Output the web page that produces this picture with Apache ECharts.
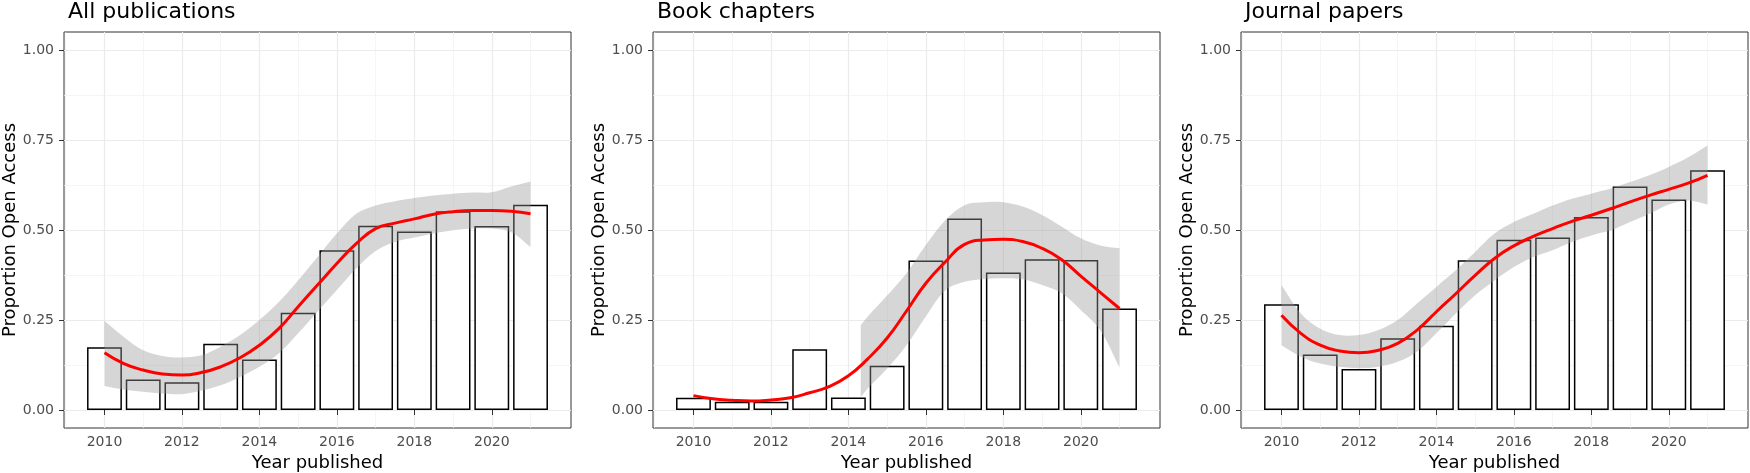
<!DOCTYPE html>
<html>
<head>
<meta charset="utf-8">
<script src="https://cdn.jsdelivr.net/npm/echarts@6/dist/echarts.min.js"></script>
<style>
  html, body { margin: 0; padding: 0; background: #fff; }
  #chart { width: 1750px; height: 473px; }
</style>
</head>
<body>
<div id="chart"></div>
<script>
// bars: proportion open access per year
var years = [2010, 2011, 2012, 2013, 2014, 2015, 2016, 2017, 2018, 2019, 2020, 2021];
var allBars     = [0.174, 0.085, 0.077, 0.184, 0.140, 0.270, 0.444, 0.512, 0.496, 0.552, 0.511, 0.570];
var chapterBars = [0.034, 0.023, 0.023, 0.169, 0.035, 0.123, 0.415, 0.532, 0.382, 0.419, 0.417, 0.282];
var journalBars = [0.294, 0.154, 0.114, 0.199, 0.234, 0.416, 0.473, 0.479, 0.536, 0.621, 0.585, 0.666];

// loess fit + confidence band, read every half year
var fitX = [2010, 2010.5, 2011, 2011.5, 2012, 2012.5, 2013, 2013.5, 2014, 2014.5, 2015, 2015.5,
            2016, 2016.5, 2017, 2017.5, 2018, 2018.5, 2019, 2019.5, 2020, 2020.5, 2021];
var allFit   = [0.159, 0.129, 0.111, 0.100, 0.097, 0.104, 0.120, 0.145, 0.180, 0.226, 0.287, 0.347,
                0.407, 0.462, 0.504, 0.519, 0.531, 0.544, 0.551, 0.554, 0.554, 0.552, 0.545];
var allLower = [0.067, 0.057, 0.051, 0.046, 0.044, 0.054, 0.069, 0.092, 0.120, 0.157, 0.213, 0.273,
                0.333, 0.393, 0.442, 0.467, 0.479, 0.490, 0.499, 0.504, 0.504, 0.494, 0.453];
var allUpper = [0.248, 0.203, 0.166, 0.150, 0.146, 0.152, 0.176, 0.208, 0.250, 0.300, 0.360, 0.425,
                0.490, 0.545, 0.568, 0.580, 0.589, 0.596, 0.601, 0.604, 0.605, 0.621, 0.635];

var chapterFit = [0.040, 0.031, 0.027, 0.025, 0.028, 0.034, 0.048, 0.065, 0.095, 0.142, 0.200, 0.275,
                  0.352, 0.411, 0.460, 0.472, 0.474, 0.468, 0.449, 0.418, 0.372, 0.327, 0.282];
// band below zero is dropped, so it starts mid 2014
var chapterBandX = [2014.32, 2014.5, 2015, 2015.5, 2016, 2016.5, 2017, 2017.5, 2018, 2018.5, 2019, 2019.5, 2020, 2020.5, 2021];
var chapterLower = [0.037, 0.060, 0.115, 0.180, 0.260, 0.332, 0.356, 0.364, 0.366, 0.363, 0.347, 0.325, 0.278, 0.222, 0.118];
var chapterUpper = [0.236, 0.260, 0.318, 0.380, 0.458, 0.527, 0.569, 0.577, 0.577, 0.565, 0.542, 0.510, 0.477, 0.457, 0.449];

var journalFit   = [0.263, 0.213, 0.180, 0.164, 0.159, 0.166, 0.185, 0.222, 0.273, 0.323, 0.374, 0.421,
                    0.456, 0.482, 0.504, 0.524, 0.541, 0.559, 0.578, 0.596, 0.613, 0.630, 0.652];
var journalLower = [0.180, 0.148, 0.129, 0.120, 0.116, 0.120, 0.134, 0.162, 0.213, 0.268, 0.319, 0.360,
                    0.397, 0.425, 0.444, 0.467, 0.485, 0.499, 0.522, 0.545, 0.571, 0.582, 0.571];
var journalUpper = [0.347, 0.268, 0.226, 0.208, 0.208, 0.222, 0.250, 0.296, 0.342, 0.388, 0.439, 0.490,
                    0.522, 0.545, 0.568, 0.587, 0.601, 0.615, 0.633, 0.652, 0.675, 0.702, 0.735];

var titles = ['All publications', 'Book chapters', 'Journal papers'];
var xMajor = [2010, 2012, 2014, 2016, 2018, 2020];
var xMinor = [2009, 2011, 2013, 2015, 2017, 2019, 2021];
var yMajor = [0, 0.25, 0.5, 0.75, 1];
var yMinor = [0.125, 0.375, 0.625, 0.875];

var FONT = 'DejaVu Sans';
var panelLeft = [64, 653, 1241];
var panelW = 507, panelTop = 32, panelH = 396;

function pair(xs, ys) {
  return xs.map(function (x, i) { return [x, ys[i]]; });
}

// ribbon: upper edge forward, lower edge back; end points doubled so the
// smoothing keeps the ends square
function bandRenderer(xs, lower, upper) {
  return function (params, api) {
    if (params.dataIndex !== 0) return null;
    var pts = [];
    var n = xs.length;
    for (var i = 0; i < n; i++) {
      pts.push(api.coord([xs[i], upper[i]]));
      if (i === n - 1) pts.push(api.coord([xs[i], upper[i]]));
    }
    for (var j = n - 1; j >= 0; j--) {
      pts.push(api.coord([xs[j], lower[j]]));
      if (j === n - 1 || j === 0) pts.push(api.coord([xs[j], lower[j]]));
    }
    pts.push(api.coord([xs[0], upper[0]]));
    return {
      type: 'polygon',
      shape: {points: pts, smooth: 0.35},
      style: {fill: 'rgba(153,153,153,0.4)', stroke: null}
    };
  };
}

var panels = [
  {bars: allBars, fit: allFit, bandX: fitX, lower: allLower, upper: allUpper},
  {bars: chapterBars, fit: chapterFit, bandX: chapterBandX, lower: chapterLower, upper: chapterUpper},
  {bars: journalBars, fit: journalFit, bandX: fitX, lower: journalLower, upper: journalUpper}
];

var option = {
  animation: false,
  backgroundColor: '#fff',
  textStyle: {fontFamily: FONT},
  title: [], grid: [], xAxis: [], yAxis: [], series: []
};

panels.forEach(function (p, i) {
  option.title.push({
    text: titles[i], left: panelLeft[i] - 1, top: -4,
    textStyle: {fontFamily: FONT, fontSize: 22, fontWeight: 'normal', color: '#000'}
  });
  option.grid.push({
    left: panelLeft[i], top: panelTop, width: panelW, height: panelH,
    outerBoundsMode: 'none', containLabel: false,
    show: true, borderColor: '#333', borderWidth: 1, backgroundColor: 'transparent'
  });
  // main axes
  option.xAxis.push({
    type: 'value', gridIndex: i, min: 2008.955, max: 2022.045,
    name: 'Year published', nameLocation: 'middle', nameGap: 24,
    nameTextStyle: {fontFamily: FONT, fontSize: 18, color: '#000'},
    axisLine: {show: false},
    axisTick: {show: true, length: 5, customValues: xMajor, lineStyle: {color: '#333', width: 1}},
    axisLabel: {customValues: xMajor, fontFamily: FONT, fontSize: 14, color: '#4d4d4d', margin: 7,
                formatter: function (v) { return String(v); }},
    splitLine: {show: true, lineStyle: {color: '#ebebeb', width: 1.2}}
  });
  option.yAxis.push({
    type: 'value', gridIndex: i, min: -0.05, max: 1.05,
    name: 'Proportion Open Access', nameLocation: 'middle', nameGap: 44,
    nameTextStyle: {fontFamily: FONT, fontSize: 18, color: '#000'},
    axisLine: {show: false},
    axisTick: {show: true, length: 5, customValues: yMajor, lineStyle: {color: '#333', width: 1}},
    axisLabel: {customValues: yMajor, fontFamily: FONT, fontSize: 14, color: '#4d4d4d', margin: 10,
                formatter: function (v) { return v.toFixed(2); }},
    splitLine: {show: true, lineStyle: {color: '#ebebeb', width: 1.2}}
  });
  // minor grid lines
  option.xAxis.push({
    type: 'value', gridIndex: i, min: 2008.955, max: 2022.045,
    axisLine: {show: false},
    axisTick: {show: false, customValues: xMinor},
    axisLabel: {show: false, customValues: xMinor},
    splitLine: {show: true, lineStyle: {color: '#f0f0f0', width: 0.7}}
  });
  option.yAxis.push({
    type: 'value', gridIndex: i, min: -0.05, max: 1.05,
    axisLine: {show: false},
    axisTick: {show: false, customValues: yMinor},
    axisLabel: {show: false, customValues: yMinor},
    splitLine: {show: true, lineStyle: {color: '#f0f0f0', width: 0.7}}
  });

  var xi = i * 2;
  option.series.push({
    type: 'bar', xAxisIndex: xi, yAxisIndex: xi, barWidth: '90%',
    data: pair(years, p.bars), silent: true,
    itemStyle: {color: '#fff', borderColor: '#000', borderWidth: 1.5}
  });
  option.series.push({
    type: 'custom', xAxisIndex: xi, yAxisIndex: xi, silent: true, z: 3,
    data: p.bandX.map(function (x, k) { return [x, p.lower[k], p.upper[k]]; }),
    encode: {x: 0, y: [1, 2]},
    renderItem: bandRenderer(p.bandX, p.lower, p.upper)
  });
  option.series.push({
    type: 'line', xAxisIndex: xi, yAxisIndex: xi, z: 4,
    data: pair(fitX, p.fit), smooth: true, symbol: 'none', silent: true,
    lineStyle: {color: '#ff0000', width: 3}
  });
});

var chart = echarts.init(document.getElementById('chart'));
chart.setOption(option);
</script>
</body>
</html>
